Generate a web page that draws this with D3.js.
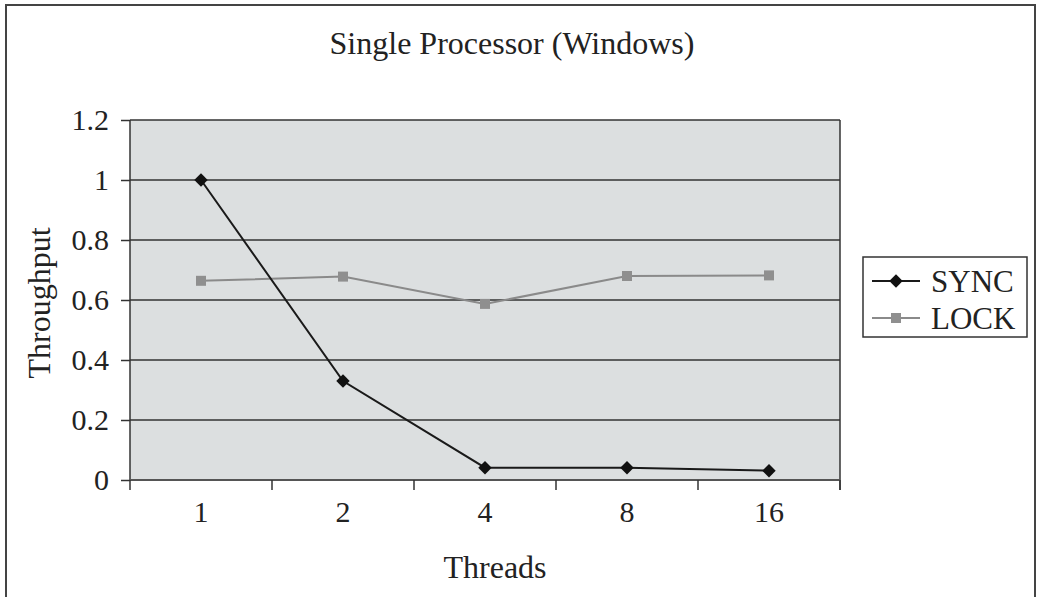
<!DOCTYPE html>
<html><head><meta charset="utf-8">
<script src="https://cdn.jsdelivr.net/npm/d3@7"></script>
<style>body{margin:0;background:#fff;} svg{display:block;}</style>
</head><body>
<svg id="c" width="1039" height="597"></svg>
<script>
const categories = ["1","2","4","8","16"];
const syncValues = [1.0, 0.33, 0.041, 0.041, 0.031];
const lockValues = [0.664, 0.678, 0.587, 0.68, 0.682];
const yTicks = [0, 0.2, 0.4, 0.6, 0.8, 1, 1.2];
const seriesNames = ["SYNC", "LOCK"];

const svg = d3.select("#c");
const font = "'Liberation Serif', 'Times New Roman', serif";
const L = 130, R = 840, T = 120, B = 480;

// outer border
svg.append("rect").attr("x",6).attr("y",5).attr("width",1029).attr("height",600)
  .attr("fill","#fff").attr("stroke","#444").attr("stroke-width",2);

const x = d3.scaleBand().domain(categories).range([L,R]).padding(0);
const y = d3.scaleLinear().domain([0,1.2]).range([B,T]);

svg.append("rect").attr("x",L).attr("y",T).attr("width",R-L).attr("height",B-T)
  .attr("fill","#dcdfe0");

// gridlines
svg.append("g").selectAll("line").data(yTicks.filter(d=>d>0)).join("line")
  .attr("x1",L).attr("x2",R).attr("y1",d=>y(d)).attr("y2",d=>y(d))
  .attr("stroke","#333").attr("stroke-width",1.5);
// right border of plot
svg.append("line").attr("x1",R).attr("x2",R).attr("y1",T).attr("y2",B+10)
  .attr("stroke","#333").attr("stroke-width",1.5);

// y axis
const yAxis = svg.append("g").attr("transform",`translate(${L},0)`)
  .call(d3.axisLeft(y).tickValues(yTicks).tickSize(9).tickPadding(12).tickFormat(d=>String(d)));
yAxis.select(".domain").attr("stroke","#333").attr("stroke-width",1.5).attr("d",`M0,${T}V${B}`);
yAxis.selectAll(".tick line").attr("stroke","#333").attr("stroke-width",1.5);
yAxis.selectAll("text").attr("font-family",font).attr("font-size",30).attr("fill","#222");

// x axis
const xAxis = svg.append("g").attr("transform",`translate(0,${B})`)
  .call(d3.axisBottom(x).tickSize(0).tickPadding(21));
xAxis.select(".domain").attr("stroke","#555").attr("stroke-width",2).attr("d",`M${L},0H${R}`);
xAxis.selectAll("text").attr("font-family",font).attr("font-size",30).attr("fill","#222");
// x tick marks at band boundaries
const bounds = categories.map(c=>x(c)).concat([R]);
svg.append("g").selectAll("line").data(bounds).join("line")
  .attr("x1",d=>d).attr("x2",d=>d).attr("y1",B).attr("y2",B+10)
  .attr("stroke","#333").attr("stroke-width",1.5);

const cx = c => x(c) + x.bandwidth()/2;
const line = d3.line().x((d,i)=>cx(categories[i])).y(d=>y(d));

// LOCK series
svg.append("path").datum(lockValues).attr("d",line).attr("fill","none")
  .attr("stroke","#8a8a8a").attr("stroke-width",2);
svg.append("g").selectAll("rect").data(lockValues).join("rect")
  .attr("x",(d,i)=>cx(categories[i])-5).attr("y",d=>y(d)-5).attr("width",10).attr("height",10)
  .attr("fill","#8f8f8f");

// SYNC series
svg.append("path").datum(syncValues).attr("d",line).attr("fill","none")
  .attr("stroke","#1a1a1a").attr("stroke-width",2);
svg.append("g").selectAll("path").data(syncValues).join("path")
  .attr("transform",(d,i)=>`translate(${cx(categories[i])},${y(d)}) rotate(45)`)
  .attr("d",d3.symbol().type(d3.symbolSquare).size(90)).attr("fill","#111");

// title
svg.append("text").attr("x",512).attr("y",54).attr("text-anchor","middle")
  .attr("font-family",font).attr("font-size",32).attr("fill","#222").text("Single Processor (Windows)");
// axis titles
svg.append("text").attr("x",495).attr("y",578).attr("text-anchor","middle")
  .attr("font-family",font).attr("font-size",32).attr("fill","#222").text("Threads");
svg.append("text").attr("transform","translate(50,303) rotate(-90)").attr("text-anchor","middle")
  .attr("font-family",font).attr("font-size",32).attr("fill","#222").text("Throughput");

// legend
const lg = svg.append("g");
lg.append("rect").attr("x",863).attr("y",257).attr("width",164).attr("height",80)
  .attr("fill","#fff").attr("stroke","#333").attr("stroke-width",1.5);
const legColors = ["#1a1a1a","#8a8a8a"];
const legY = [281, 318];
seriesNames.forEach((n,i)=>{
  const yy = legY[i];
  lg.append("line").attr("x1",872).attr("x2",920).attr("y1",yy).attr("y2",yy)
    .attr("stroke",legColors[i]).attr("stroke-width",2);
  if(i===0){
    lg.append("path").attr("transform",`translate(896,${yy}) rotate(45)`)
      .attr("d",d3.symbol().type(d3.symbolSquare).size(90)).attr("fill","#111");
  } else {
    lg.append("rect").attr("x",891).attr("y",yy-5).attr("width",10).attr("height",10).attr("fill","#8f8f8f");
  }
  lg.append("text").attr("x",931).attr("y",yy+11).attr("font-family",font).attr("font-size",31)
    .attr("fill","#222").text(n);
});
</script>
</body></html>
